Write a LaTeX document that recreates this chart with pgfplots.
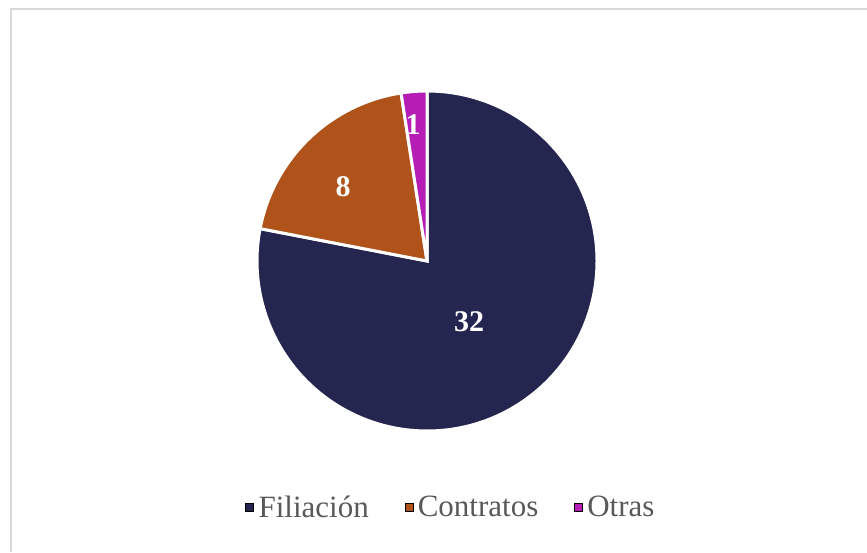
\documentclass[border=0pt]{standalone}
\usepackage{fontspec}
\setmainfont{Liberation Serif}
\usepackage{pgfplots}
\usepackage{pgfplotstable}
\pgfplotsset{compat=1.18}
\definecolor{cFil}{HTML}{25264F}
\definecolor{cCon}{HTML}{B0531A}
\definecolor{cOtr}{HTML}{B51DB5}
\definecolor{legtext}{HTML}{595959}
\definecolor{frame}{HTML}{D9D9D9}
\pgfplotstableread{
label value
Filiacion 32
Contratos 8
Otras 1
}\piedata
\pgfplotstablegetelem{0}{value}\of\piedata \edef\vA{\pgfplotsretval}
\pgfplotstablegetelem{1}{value}\of\piedata \edef\vB{\pgfplotsretval}
\pgfplotstablegetelem{2}{value}\of\piedata \edef\vC{\pgfplotsretval}
\pgfmathsetmacro\total{\vA+\vB+\vC}
\pgfmathsetmacro\aA{90}
\pgfmathsetmacro\aB{90-360*\vA/\total}
\pgfmathsetmacro\aC{\aB-360*\vB/\total}
\pgfmathsetmacro\aD{\aC-360*\vC/\total}
\begin{document}
\begin{tikzpicture}
\useasboundingbox (0,0) rectangle (867pt,552pt);
\draw[frame, line width=2pt] (11pt,0) -- (11pt,543pt) -- (867pt,543pt);
\begin{axis}[
  x=1pt, y=1pt, xmin=0, xmax=867, ymin=0, ymax=552,
  at={(0,0)}, anchor=origin, hide axis, clip=false,
  legend columns=3, legend cell align=left,
  legend style={draw=none, fill=none, at={(axis cs:451,45)}, anchor=center,
    font=\fontsize{31}{36}\selectfont, text=legtext,
    /tikz/every odd column/.append style={column sep=3pt},
    /tikz/every even column/.append style={column sep=34pt}},
]
\fill[cFil, draw=white, line width=3pt] (axis cs:427,291) -- ++(\aA:170pt) arc[start angle=\aA, end angle=\aB, radius=170pt] -- cycle;
\fill[cCon, draw=white, line width=3pt] (axis cs:427,291) -- ++(\aB:170pt) arc[start angle=\aB, end angle=\aC, radius=170pt] -- cycle;
\fill[cOtr, draw=white, line width=3pt] (axis cs:427,291) -- ++(\aC:170pt) arc[start angle=\aC, end angle=\aD, radius=170pt] -- cycle;
\node[white, font=\bfseries\fontsize{30}{36}\selectfont] at (axis cs:469,230) {\vA};
\node[white, font=\bfseries\fontsize{30}{36}\selectfont] at (axis cs:343,365) {\vB};
\node[white, font=\bfseries\fontsize{30}{36}\selectfont] at (axis cs:413,427) {\vC};
\addlegendimage{only marks, mark=square*, mark options={draw=none, fill=cFil}, mark size=4pt}
\addlegendentry{Filiación}
\addlegendimage{only marks, mark=square*, mark options={draw=none, fill=cCon}, mark size=4pt}
\addlegendentry{Contratos}
\addlegendimage{only marks, mark=square*, mark options={draw=none, fill=cOtr}, mark size=4pt}
\addlegendentry{Otras}
\end{axis}
\end{tikzpicture}
\end{document}
